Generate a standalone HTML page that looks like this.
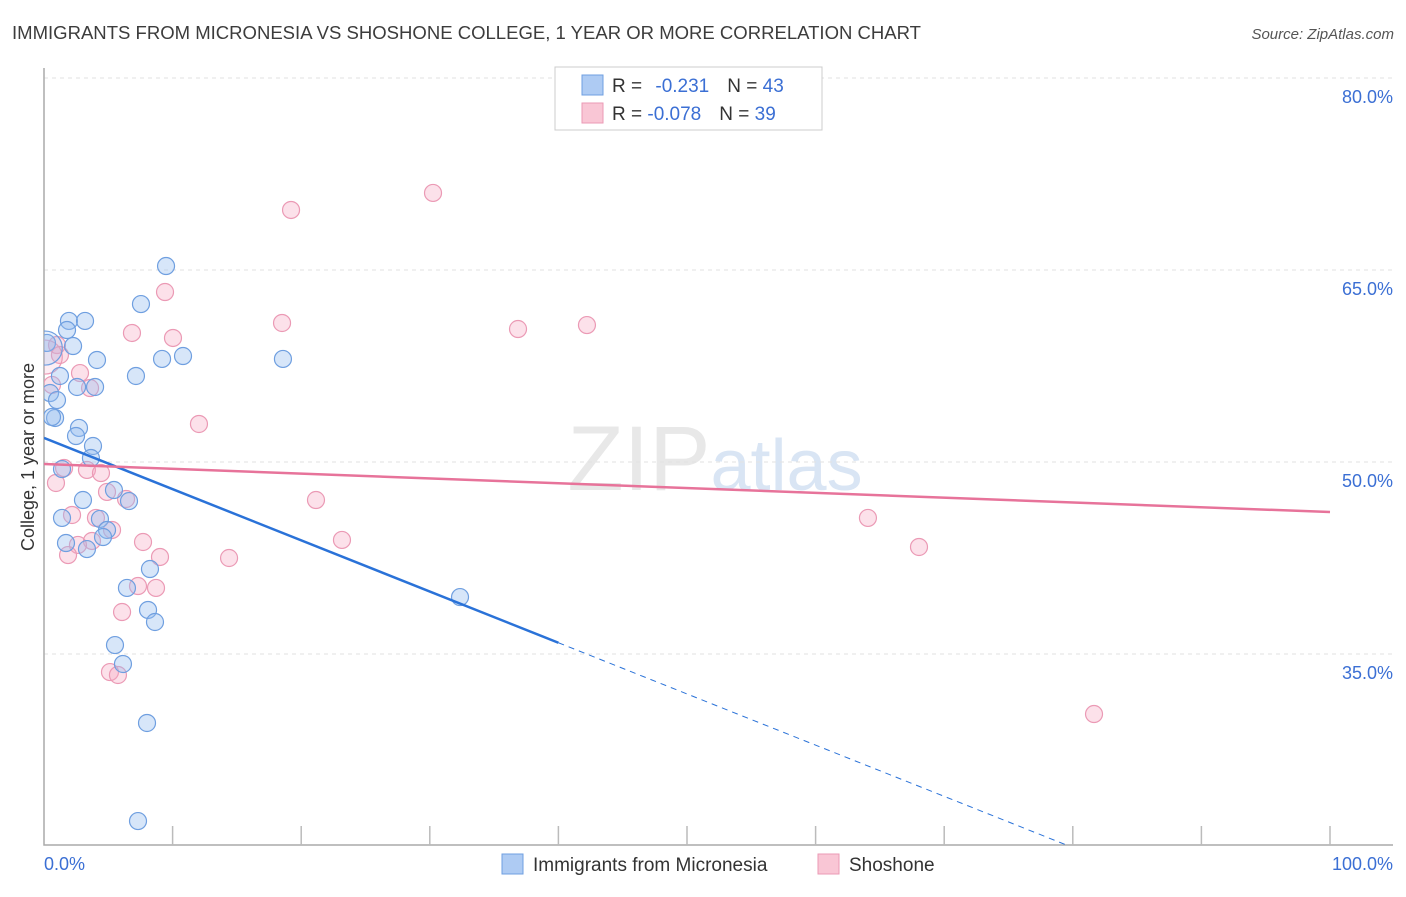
<!DOCTYPE html>
<html><head><meta charset="utf-8"><style>
body{margin:0;background:#fff;font-family:"Liberation Sans",sans-serif}
svg text{font-family:"Liberation Sans",sans-serif}
</style></head><body>
<svg id="chart" width="1406" height="892" xmlns="http://www.w3.org/2000/svg">
<defs><clipPath id="plotclip"><rect x="44" y="60" width="1360" height="785"/></clipPath></defs>
<text x="12" y="39" font-size="18" fill="#3c3c3c" textLength="909" lengthAdjust="spacingAndGlyphs">IMMIGRANTS FROM MICRONESIA VS SHOSHONE COLLEGE, 1 YEAR OR MORE CORRELATION CHART</text>
<text x="1394" y="39" font-size="15" fill="#555" text-anchor="end" font-style="italic">Source: ZipAtlas.com</text>
<text x="715" y="490" font-size="92" fill="#e8e8e8" text-anchor="middle" font-family="Liberation Serif">ZIP<tspan fill="#d9e5f4" font-family="Liberation Sans" font-size="72">atlas</tspan></text>
<g id="grid"></g>
<g id="axes"></g>
<g id="marks" clip-path="url(#plotclip)"></g>
<text transform="translate(34,457) rotate(-90)" font-size="18" fill="#333" text-anchor="middle">College, 1 year or more</text>
<rect x="555" y="67" width="267" height="63" fill="#fff" stroke="#ccc"/>
<rect x="582" y="75" width="21" height="20" fill="#aecbf3" stroke="#6f9fe0"/>
<text x="612" y="92" font-size="19" fill="#333">R = <tspan fill="#3b6fd4" dx="8">-0.231</tspan><tspan dx="18">N = </tspan><tspan fill="#3b6fd4">43</tspan></text>
<rect x="582" y="103" width="21" height="20" fill="#f9c6d5" stroke="#eb9ab5"/>
<text x="612" y="120" font-size="19" fill="#333">R = <tspan fill="#3b6fd4">-0.078</tspan><tspan dx="18">N = </tspan><tspan fill="#3b6fd4">39</tspan></text>
<rect x="502" y="854" width="21" height="20" fill="#aecbf3" stroke="#6f9fe0"/>
<text x="533" y="871" font-size="19" fill="#333">Immigrants from Micronesia</text>
<rect x="818" y="854" width="21" height="20" fill="#f9c6d5" stroke="#eb9ab5"/>
<text x="849" y="871" font-size="19" fill="#333">Shoshone</text>
</svg>
<script>
const yTicks=[35,50,65,80];
const xTickLabels=["0.0%","100.0%"];
const blueX=[9.49,7.54,1.94,3.19,1.79,2.26,0.23,4.12,9.18,10.81,18.58,7.15,1.24,2.57,3.97,0.47,1.01,0.86,0.62,2.72,2.49,3.81,3.65,1.40,3.03,5.44,6.61,1.40,4.35,4.90,1.71,4.59,3.34,8.24,6.45,8.09,8.63,5.52,6.14,8.01,7.31,32.35,0.1];
const blueY=[65.31,62.34,61.02,61.02,60.31,59.06,59.30,57.97,58.05,58.28,58.05,56.72,56.72,55.86,55.86,55.39,54.84,53.44,53.52,52.66,52.03,51.25,50.31,49.45,47.03,47.81,46.95,45.63,45.55,44.69,43.67,44.14,43.20,41.64,40.16,38.44,37.50,35.70,34.22,29.61,21.95,39.45,58.9];
const pinkX=[30.25,19.21,9.41,18.51,36.86,42.22,6.84,10.03,1.01,1.24,2.80,3.58,0.62,12.05,1.56,3.34,4.43,0.93,4.90,6.38,21.15,2.18,4.04,5.29,3.73,2.64,7.70,23.17,1.87,9.02,14.39,64.07,68.04,7.31,8.71,6.07,5.13,5.75,81.65,0.1];
const pinkY=[71.02,69.69,63.28,60.86,60.39,60.70,60.08,59.69,59.14,58.36,56.95,55.78,56.02,52.97,49.53,49.38,49.14,48.36,47.66,47.11,47.03,45.86,45.63,44.69,43.83,43.52,43.75,43.91,42.73,42.58,42.50,45.63,43.36,40.31,40.16,38.28,33.59,33.36,30.31,58.2];
const blueTrend=[51.88,-0.4];
const pinkTrend=[49.84,-0.0375];
const NS="http://www.w3.org/2000/svg";
const X=v=>44+v*12.86;
const Y=v=>462-(v-50)*12.8;
function mk(tag,attrs,parent){const e=document.createElementNS(NS,tag);for(const k in attrs)e.setAttribute(k,attrs[k]);document.getElementById(parent).appendChild(e);return e;}
yTicks.forEach(t=>{
  const g=mk('line',{x1:44,x2:1393,y1:Y(t),y2:Y(t),stroke:'#e2e2e2','stroke-dasharray':'4,4','stroke-width':1},'grid');
  
  
  const l=mk('text',{x:1393,y:Y(t)+25,'font-size':18,fill:'#3b6fd4','text-anchor':'end'},'grid');
  l.textContent=t.toFixed(1)+'%';
  
  
});
const ax=mk('path',{d:'M44,68 V845 H1393',fill:'none',stroke:'#aaa','stroke-width':1.5},'axes');


for(let i=1;i<=10;i++){
  const t=mk('line',{x1:X(i*10),x2:X(i*10),y1:826,y2:845,stroke:'#bbb','stroke-width':1.5},'axes');
  
  
}
[[0,'start',44],[100,'end',1393]].forEach((d,i)=>{
  const t=mk('text',{x:d[2],y:870,'font-size':18,fill:'#3b6fd4','text-anchor':d[1]},'axes');
  t.textContent=xTickLabels[i];
  
  
});
function dots(xs,ys,fill,stroke,name){
  xs.forEach((x,i)=>{
    const big=(i===xs.length-1);
    const c=mk('circle',{cx:X(x),cy:Y(ys[i]),r:big?17:8.5,fill:fill,stroke:stroke,'stroke-width':1.2,'fill-opacity':big?0.6:1},'marks');
    
    
  });
}
dots(pinkX,pinkY,'rgba(245,170,195,0.35)','#eb9ab5','point-shoshone');
dots(blueX,blueY,'rgba(150,190,240,0.38)','#6f9fe0','point-micronesia');
const bEnd=40, bY=x=>blueTrend[0]+blueTrend[1]*x;
const bl=mk('line',{x1:X(0),y1:Y(bY(0)),x2:X(bEnd),y2:Y(bY(bEnd)),stroke:'#2a72d8','stroke-width':2.5},'marks');


const xEnd=(blueTrend[0]-(50-(845-462)/12.8))/-blueTrend[1];
const bd=mk('line',{x1:X(bEnd),y1:Y(bY(bEnd)),x2:X(xEnd),y2:Y(bY(xEnd)),stroke:'#2a72d8','stroke-width':1,'stroke-dasharray':'6,5'},'marks');


const pY=x=>pinkTrend[0]+pinkTrend[1]*x;
const pl=mk('line',{x1:X(0),y1:Y(pY(0)),x2:X(100),y2:Y(pY(100)),stroke:'#e7739a','stroke-width':2.5},'marks');


</script>
</body></html>
